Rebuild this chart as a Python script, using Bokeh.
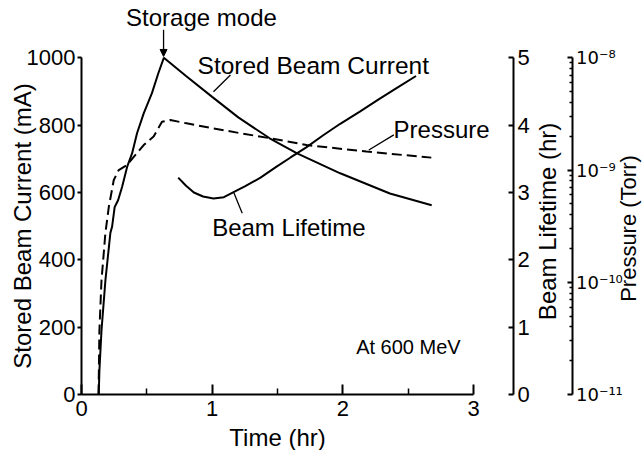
import math
from bokeh.plotting import figure
from bokeh.models import (Range1d, LinearAxis, LogAxis, LogScale, FixedTicker,
                          CustomJSTickFormatter, Label, Arrow, NormalHead)
from bokeh.embed import file_html
from bokeh.resources import INLINE

# ---------------- data ----------------
# Stored beam current (mA) vs time (hr)
t_current = [0.132, 0.137, 0.153, 0.183, 0.221, 0.234, 0.254, 0.280, 0.311, 0.349,
             0.387, 0.425, 0.476, 0.539, 0.588, 0.630, 0.800, 1.000, 1.200, 1.440,
             1.650, 1.980, 2.360, 2.680]
current = [0, 71, 190, 339, 480, 498, 557, 577, 617, 676,
           716, 776, 835, 895, 954, 1000, 946, 884, 823, 761,
           716, 657, 597, 562]

# Pressure (Torr) vs time (hr)
t_press = [0.130, 0.133, 0.137, 0.153, 0.183, 0.209, 0.247, 0.285, 0.349, 0.400,
           0.476, 0.552, 0.616, 0.680, 0.794, 1.000, 1.214, 1.443, 1.723, 2.180, 2.677]
pressure = [1.0e-11, 1.63e-11, 3.72e-11, 1.04e-10, 2.75e-10, 4.69e-10, 8.15e-10, 1.0e-9, 1.11e-9, 1.31e-9,
            1.67e-9, 1.99e-9, 2.69e-9, 2.79e-9, 2.62e-9, 2.36e-9, 2.13e-9, 1.92e-9, 1.67e-9, 1.46e-9, 1.29e-9]

# Beam lifetime (hr) vs time (hr)
t_life = [0.74, 0.80, 0.86, 0.93, 1.01, 1.09, 1.16, 1.25, 1.37, 1.49,
          1.60, 1.72, 1.85, 1.98, 2.13, 2.28, 2.42, 2.56]
lifetime = [3.22, 3.10, 3.00, 2.94, 2.91, 2.93, 3.00, 3.09, 3.22, 3.38,
            3.52, 3.67, 3.85, 4.02, 4.20, 4.39, 4.56, 4.73]

x_ticks = [0, 1, 2, 3]
x_minor = [0.5, 1.5, 2.5]
y_ticks = [0, 200, 400, 600, 800, 1000]
life_ticks = [0, 1, 2, 3, 4, 5]
press_ticks = [1e-11, 1e-10, 1e-9, 1e-8]

FONT = "Liberation Sans"

# ---------------- layout (frame fills the canvas; axes sit at fixed spots) ----------------
W, H = 642, 450
x0_px, y0_px = 81, 394          # pixel of time 0 / current 0
px_per_hr = 130.67
px_per_mA = 0.3367
x_min, x_max = -x0_px / px_per_hr, (W - x0_px) / px_per_hr
y_min, y_max = -(H - y0_px) / px_per_mA, y0_px / px_per_mA
life_axis_x = (513 - x0_px) / px_per_hr
press_axis_x = (571.5 - x0_px) / px_per_hr

p = figure(width=W, height=H, x_range=Range1d(x_min, x_max), y_range=Range1d(y_min, y_max),
           output_backend="svg", toolbar_location=None,
           min_border_left=0, min_border_right=0, min_border_top=0, min_border_bottom=0)
p.grid.visible = False
p.outline_line_color = None
p.background_fill_color = "white"
p.border_fill_color = "white"

p.extra_y_ranges = {"life": Range1d(5 * y_min / 1000, 5 * y_max / 1000),
                    "press": Range1d(10 ** (-11 + 3 * y_min / 1000), 10 ** (-11 + 3 * y_max / 1000))}
p.extra_y_scales = {"press": LogScale()}

def style_axis(ax, tick_size="22px", label_size="24px"):
    ax.axis_line_color = "black"
    ax.axis_line_width = 2
    ax.major_tick_line_color = "black"
    ax.major_tick_line_width = 2
    ax.minor_tick_line_color = "black"
    ax.minor_tick_line_width = 1.5
    ax.major_label_text_font = FONT
    ax.major_label_text_font_size = tick_size
    ax.major_label_text_color = "black"
    ax.axis_label_text_font = FONT
    ax.axis_label_text_font_size = label_size
    ax.axis_label_text_font_style = "normal"
    ax.axis_label_text_color = "black"

# bottom axis
xa = p.xaxis[0]
style_axis(xa)
xa.fixed_location = 0
xa.ticker = FixedTicker(ticks=x_ticks, minor_ticks=x_minor)
xa.bounds = (0, 3)
xa.major_tick_in = 10
xa.major_tick_out = 0
xa.minor_tick_in = 6
xa.minor_tick_out = 0
xa.major_label_standoff = 6
xa.axis_label = "Time (hr)"
xa.axis_label_standoff = 5

# left axis
ya = p.yaxis[0]
style_axis(ya)
ya.fixed_location = 0
ya.ticker = FixedTicker(ticks=y_ticks, minor_ticks=[])
ya.bounds = (0, 1000)
ya.major_tick_out = 4
ya.major_tick_in = 0
ya.major_label_standoff = 2
ya.axis_label = "Stored Beam Current (mA)"
ya.axis_label_standoff = -12

# lifetime axis
la = LinearAxis(y_range_name="life", fixed_location=life_axis_x)
style_axis(la)
la.ticker = FixedTicker(ticks=life_ticks, minor_ticks=[])
la.bounds = (0, 5)
la.major_tick_in = 5
la.major_tick_out = 0
la.major_label_standoff = 4
p.add_layout(la, "right")

# pressure axis (log)
pa = LogAxis(y_range_name="press", fixed_location=press_axis_x)
style_axis(pa, tick_size="18px")
pa.major_label_text_font = "DejaVu Sans"
minor_p = [k * 10.0 ** e for e in (-11, -10, -9) for k in range(2, 10)]
pa.ticker = FixedTicker(ticks=press_ticks, minor_ticks=minor_p)
pa.formatter = CustomJSTickFormatter(code="""
const sup = {"0":"\\u2070","1":"\\u00B9","2":"\\u00B2","3":"\\u00B3","4":"\\u2074",
             "5":"\\u2075","6":"\\u2076","7":"\\u2077","8":"\\u2078","9":"\\u2079","-":"\\u207B"};
const e = Math.round(Math.log10(tick));
return "10" + String(e).split("").map(c => sup[c]).join("");
""")
pa.bounds = (1e-11, 1e-8)
pa.major_tick_in = 5
pa.major_tick_out = 0
pa.minor_tick_in = 3
pa.minor_tick_out = 0
pa.major_label_standoff = 4
p.add_layout(pa, "right")

# right-hand axis titles (rotated, reading upward)
axis_titles = [
    ("Beam Lifetime (hr)", 3.566, 514, "24px"),
    ("Pressure (Torr)", 4.188, 493, "22px"),
]
for txt, x, y, size in axis_titles:
    p.add_layout(Label(x=x, y=y, text=txt, angle=math.pi / 2, text_font=FONT,
                       text_font_size=size, text_align="center", text_baseline="middle",
                       text_color="black"))

# curves
p.line(t_current, current, line_color="black", line_width=2)
p.line(t_press, pressure, y_range_name="press", line_color="black", line_width=2, line_dash="10 5")
p.line(t_life, lifetime, y_range_name="life", line_color="black", line_width=2)

# annotations (text positions and leader lines)
labels = [
    ("Stored Beam Current", 0.888, 976, "left", "24.5px"),
    ("Pressure", 2.388, 786, "left", "24px"),
    ("Beam Lifetime", 1.000, 497, "left", "24px"),
    ("At 600 MeV", 2.102, 140, "left", "20px"),
    ("Storage mode", 0.918, 1119, "center", "24px"),
]
for txt, x, y, align, size in labels:
    p.add_layout(Label(x=x, y=y, text=txt, text_font=FONT, text_font_size=size,
                       text_align=align, text_baseline="middle", text_color="black"))

lead_x0 = [1.010, 2.199, 1.166]
lead_y0 = [899, 726, 599]
lead_x1 = [1.140, 2.390, 1.230]
lead_y1 = [949, 771, 538]
p.segment(lead_x0, lead_y0, lead_x1, lead_y1, line_color="black", line_width=1.3)

p.add_layout(Arrow(x_start=0.628, y_start=1083, x_end=0.628, y_end=1004,
                   line_color="black", line_width=1.3,
                   end=NormalHead(size=7, fill_color="black", line_color="black")))

open("out.html", "w", encoding="utf-8").write(file_html(p, INLINE))
